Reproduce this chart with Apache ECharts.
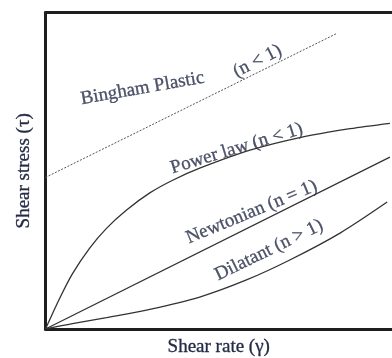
<!DOCTYPE html>
<html>
<head>
<meta charset="utf-8">
<style>
  html, body { margin: 0; padding: 0; background: #fff; }
  #chart { width: 392px; height: 358px; }
</style>
<script src="https://cdn.jsdelivr.net/npm/echarts@6/dist/echarts.min.js"></script>
</head>
<body>
<div id="chart"></div>
<script>
// Flow curves: shear stress against shear rate (arbitrary units, 0-10)
const binghamPlastic = [[0, 4.79], [8.41, 9.34]];
const powerLaw = [[0, 0], [0.40, 0.95], [0.78, 1.75], [1.27, 2.55], [1.76, 3.18], [2.34, 3.76],
                  [3.01, 4.30], [3.67, 4.70], [4.45, 5.08], [5.90, 5.65], [7.34, 6.05],
                  [8.79, 6.33], [9.94, 6.50]];
const newtonian = [[0, 0], [9.94, 5.43]];
const dilatant = [[0, 0], [0.78, 0.17], [1.76, 0.36], [3.01, 0.62], [4.45, 1.01],
                  [5.80, 1.55], [7.05, 2.18], [8.50, 3.03], [9.86, 4.01]];

// Curve captions: text, anchor (data units), tilt in degrees
const captionText = ['Bingham Plastic', '(n < 1)', 'Power law (n < 1)', 'Newtonian (n = 1)', 'Dilatant (n > 1)'];
const captionAt = [[2.80, 7.60], [6.12, 8.46], [5.52, 5.70], [5.95, 3.69], [6.45, 2.49]];
const captionTilt = [10, 27, 17, 22.5, 26];

const xTitle = 'Shear rate (γ)';
const yTitle = 'Shear stress (τ)';

const ink = '#232a45';
const curveColor = '#333';
const serif = '"Liberation Serif", "DejaVu Serif", serif';
const textSize = 19;

const chart = echarts.init(document.getElementById('chart'), null, { renderer: 'canvas' });

const frameLine = { show: true, lineStyle: { color: '#1e1e1e', width: 3 } };

function curve(data, dashed) {
  return {
    type: 'line', data: data, smooth: !dashed && data.length > 2 ? 0.3 : false,
    showSymbol: false, symbol: 'none', silent: true,
    lineStyle: { color: dashed ? '#555' : curveColor, width: dashed ? 1 : 1.3, type: dashed ? [2, 1.5] : 'solid' }
  };
}

const textStyle = {
  fontFamily: serif, fontSize: textSize, color: ink,
  textBorderColor: ink, textBorderWidth: 0.3
};

chart.setOption({
  animation: false,
  backgroundColor: '#fff',
  grid: { left: 45.5, right: 0, top: 12.5, bottom: 29, outerBoundsMode: 'none', containLabel: false },
  xAxis: [
    {
      type: 'value', min: 0, max: 10, position: 'bottom',
      axisLine: frameLine, axisTick: { show: false }, axisLabel: { show: false }, splitLine: { show: false },
      name: xTitle, nameLocation: 'middle', nameGap: 9,
      nameTextStyle: textStyle
    },
    {
      type: 'value', min: 0, max: 10, position: 'top',
      axisLine: frameLine, axisTick: { show: false }, axisLabel: { show: false }, splitLine: { show: false }
    }
  ],
  yAxis: {
    type: 'value', min: 0, max: 10,
    axisLine: frameLine, axisTick: { show: false }, axisLabel: { show: false }, splitLine: { show: false },
    name: yTitle, nameLocation: 'middle', nameGap: 12,
    nameTextStyle: textStyle
  },
  series: [
    curve(binghamPlastic, true),
    curve(powerLaw, false),
    curve(newtonian, false),
    curve(dilatant, false),
    {
      type: 'scatter', symbolSize: 0, silent: true,
      data: captionAt.map((p, i) => ({
        value: p,
        label: Object.assign({
          show: true, formatter: captionText[i], position: 'inside', rotate: captionTilt[i],
          align: 'center', verticalAlign: 'middle'
        }, textStyle)
      }))
    }
  ]
});
</script>
</body>
</html>
